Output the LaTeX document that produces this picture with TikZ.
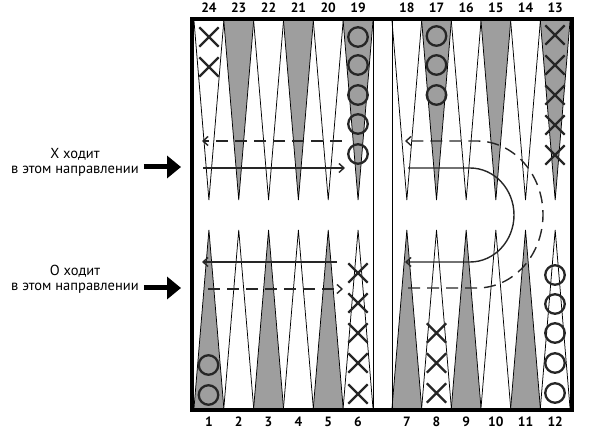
\documentclass[tikz,border=0pt]{standalone}
\usepackage{fontspec}
\setmainfont{PT Sans}
\usetikzlibrary{arrows.meta,shapes.misc}
\definecolor{ptgray}{HTML}{9E9E9E}
\tikzset{tri/.style={draw=black, line width=0.75pt, fill=#1},
  frame/.style={line width=4pt, line join=miter},
  num/.style={font=\bfseries\fontsize{13.5}{13.5}\selectfont, inner sep=0pt},
  ochk/.style={circle, draw=black!85, line width=2.3pt, minimum size=19.5pt, inner sep=0pt},
  xchk/.style={cross out, draw=black!85, line width=2.3pt, minimum size=17pt, inner sep=0pt},
  mv/.style={line width=1.4pt, black!85},
  mvarr/.style={mv, -{Straight Barb[length=5pt,width=9pt]}},
  dsh/.style={dash pattern=on 12pt off 7pt},
  lbl/.style={font=\fontsize{14.5}{15}\selectfont, align=center, inner sep=1pt},
  bigarr/.style={line width=5pt, -{Triangle[length=14pt,width=22pt]}}}

\begin{document}
\begin{tikzpicture}[x=1pt,y=-1pt]
\useasboundingbox (0,0) rectangle (590,430);
% ---- points ----
\foreach \xo/\w/\tl/\bl in {194/29.83/24/1,392/29.67/18/7}{
  \foreach \k/\ct/\cb in {0/white/ptgray,1/ptgray/white,2/white/ptgray,3/ptgray/white,4/white/ptgray,5/ptgray/white}{
    \pgfmathsetmacro{\xa}{\xo+\k*\w}
    \pgfmathsetmacro{\xm}{\xa+0.5*\w}
    \pgfmathsetmacro{\xb}{\xa+\w}
    \pgfmathtruncatemacro{\nt}{\tl-\k}
    \pgfmathtruncatemacro{\nb}{\bl+\k}
    \draw[tri=\ct] (\xa,21) -- (\xm,200) -- (\xb,21);
    \draw[tri=\cb] (\xa,408) -- (\xm,230) -- (\xb,408);
    \node[num] (t\nt) at (\xm,8) {\nt};
    \node[num] (b\nb) at (\xm,422) {\nb};}}
% ---- board ----
\draw[line width=0.8pt] (373.5,19) -- (373.5,410) (392,19) -- (392,410);
\draw[frame] (192.3,409.7) -- (192.3,19) -- (572,19) -- (572,409.7) -- cycle;
% ---- checkers ----
\foreach \y [count=\i] in {37,67} \node[xchk] (x24-\i) at (209,\y) {};
\foreach \y [count=\i] in {37,65,95,124,154} \node[ochk] (o19-\i) at (358,\y) {};
\foreach \y [count=\i] in {36,65,95} \node[ochk] (o17-\i) at (436.5,\y) {};
\foreach \y [count=\i] in {35,65,95,125,155} \node[xchk] (x13-\i) at (555,\y) {};
\foreach \y [count=\i] in {365,395} \node[ochk] (o1-\i) at (208.5,\y) {};
\foreach \y [count=\i] in {273,303,333,363,394} \node[xchk] (x6-\i) at (358,\y) {};
\foreach \y [count=\i] in {333,363,393} \node[xchk] (x8-\i) at (436.5,\y) {};
\foreach \y [count=\i] in {275,304,333,363,393} \node[ochk] (o12-\i) at (555,\y) {};
% ---- moves ----
\coordinate (sa) at (203,168); \coordinate (sb) at (345,168);
\coordinate (sc) at (408,168); \coordinate (sd) at (405,262);
\coordinate (se) at (337,262); \coordinate (sf) at (202,262);
\draw[mvarr] (sa) -- (sb);
\draw[mvarr] (sc) -- (470,168) arc[start angle=-90, end angle=90, x radius=44, y radius=47] -- (sd);
\draw[mvarr] (se) -- (sf);
\coordinate (da) at (342,141); \coordinate (db) at (202,141);
\coordinate (dc) at (208,289); \coordinate (dd) at (343,289);
\coordinate (de) at (408,288); \coordinate (df) at (405,141);
\draw[mvarr, dsh] (da) -- (db);
\draw[mvarr, dsh] (dc) -- (dd);
\draw[mvarr, dsh] (de) -- (477,288) arc[start angle=90, end angle=-90, x radius=66, y radius=73.5] -- (df);
% ---- labels ----
\node[lbl] (xlab) at (75,162) {X ходит\\в этом направлении};
\node[lbl] (olab) at (75,279) {О ходит\\в этом направлении};
\coordinate (xin) at (181,167); \coordinate (oin) at (181,288);
\draw[bigarr] ([xshift=4pt]xlab.east |- xin) -- (xin);
\draw[bigarr] ([xshift=4pt]olab.east |- oin) -- (oin);
\end{tikzpicture}
\end{document}
